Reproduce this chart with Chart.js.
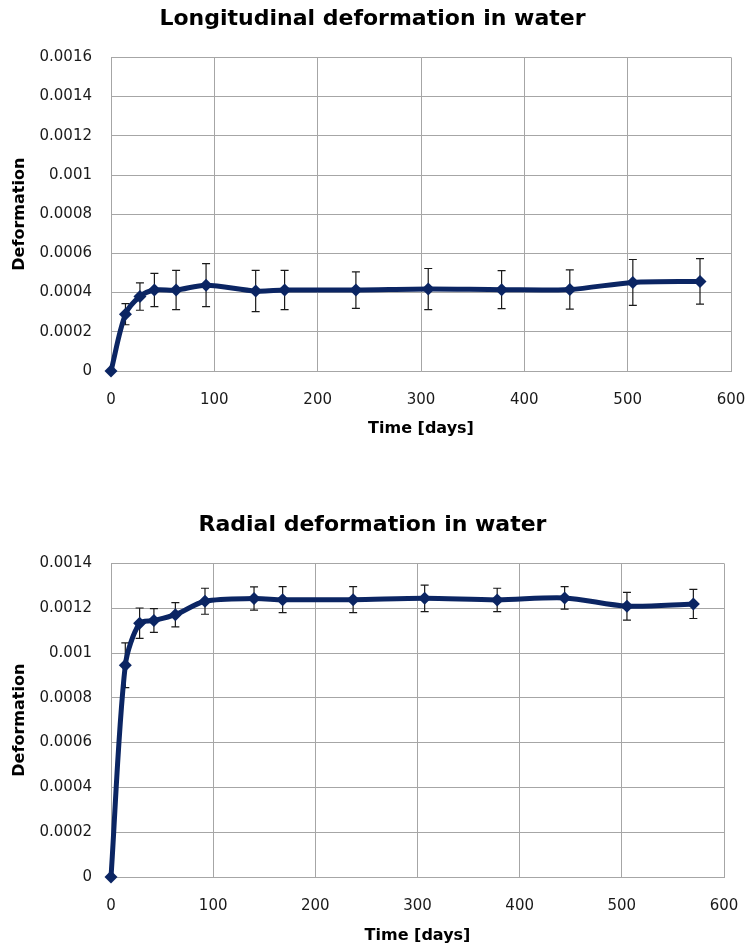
<!DOCTYPE html>
<html>
<head>
<meta charset="utf-8">
<script src="https://cdn.jsdelivr.net/npm/chart.js@4.4.1/dist/chart.umd.min.js"></script>
<style>
    body { margin: 0; background: #fff; width: 745px; height: 949px; position: relative; overflow: hidden; }
    canvas { position: absolute; left: 0; }
    #topChart { top: 0; }
    #bottomChart { top: 490px; }
</style>
</head>
<body>
<canvas id="topChart" width="745" height="450"></canvas>
<canvas id="bottomChart" width="745" height="459"></canvas>
<script>
// measurement days (same for both series)
const days = [0, 14, 28, 42, 63, 92, 140, 168, 237, 307, 378, 444, 505, 570];

const longitudinal = [0, 0.00029, 0.00038, 0.000413, 0.000413, 0.000438, 0.000408, 0.000413, 0.000413, 0.000418, 0.000415, 0.000416, 0.000452, 0.000457];
const longitudinalErr = [0, 0.000054, 0.00007, 0.000085, 0.0001, 0.00011, 0.000105, 0.0001, 0.000093, 0.000105, 0.000097, 0.0001, 0.000117, 0.000116];

const radial = [0, 0.000945, 0.001133, 0.001145, 0.001171, 0.001231, 0.001243, 0.001238, 0.001238, 0.001244, 0.001237, 0.001246, 0.001209, 0.001219];
const radialErr = [0, 0.0001, 0.000068, 0.000053, 0.000054, 0.000058, 0.000052, 0.000058, 0.000058, 0.000059, 0.000052, 0.00005, 0.000062, 0.000065];

const xTicks = [0, 100, 200, 300, 400, 500, 600];
const yTicksTop = [0, 0.0002, 0.0004, 0.0006, 0.0008, 0.001, 0.0012, 0.0014, 0.0016];
const yTicksBottom = [0, 0.0002, 0.0004, 0.0006, 0.0008, 0.001, 0.0012, 0.0014];

Chart.defaults.font.family = 'DejaVu Sans';
Chart.defaults.color = '#1a1a1a';

const lineColor = '#0b2563';
const gridColor = '#a6a6a6';

// draws the vertical error bars with small caps
const errorBars = {
    id: 'errorBars',
    beforeDatasetsDraw(chart, args, opts) {
        const ctx = chart.ctx;
        const xs = chart.scales.x;
        const ys = chart.scales.y;
        const errs = opts.errors || [];
        ctx.save();
        ctx.strokeStyle = '#1a1a1a';
        ctx.lineWidth = 1.2;
        for (let i = 0; i < days.length; i++) {
            if (!errs[i]) continue;
            const v = opts.values[i];
            const x = xs.getPixelForValue(days[i]);
            const y1 = ys.getPixelForValue(v + errs[i]);
            const y2 = ys.getPixelForValue(v - errs[i]);
            ctx.beginPath();
            ctx.moveTo(x, y1);
            ctx.lineTo(x, y2);
            ctx.moveTo(x - 4, y1);
            ctx.lineTo(x + 4, y1);
            ctx.moveTo(x - 4, y2);
            ctx.lineTo(x + 4, y2);
            ctx.stroke();
        }
        ctx.restore();
    }
};

function makeChart(canvasId, title, values, errors, yTicks, cfg) {
    const ctx = document.getElementById(canvasId);
    const points = [];
    for (let i = 0; i < days.length; i++) {
        points.push({ x: days[i], y: values[i] });
    }
    return new Chart(ctx, {
        type: 'line',
        data: {
            datasets: [
                {
                    data: points,
                    borderColor: lineColor,
                    backgroundColor: lineColor,
                    borderWidth: 5,
                    tension: 0.3,
                    pointStyle: 'rectRot',
                    pointRadius: 6.5,
                    pointBorderWidth: 0,
                    clip: false,
                },
            ],
        },
        options: {
            responsive: false,
            animation: false,
            devicePixelRatio: 1,
            layout: { padding: 0 },
            plugins: {
                legend: { display: false },
                tooltip: { enabled: false },
                title: {
                    display: true,
                    text: title,
                    color: '#000',
                    font: { size: 22, weight: 'bold' },
                    padding: { top: cfg.titleTop, bottom: cfg.titleBottom },
                },
                errorBars: { values: values, errors: errors },
            },
            scales: {
                x: {
                    type: 'linear',
                    min: 0,
                    max: 600,
                    afterBuildTicks: (scale) => {
                        scale.ticks = xTicks.map((v) => ({ value: v }));
                    },
                    afterFit: (scale) => {
                        scale.height = cfg.xHeight;
                        scale.paddingLeft = 0;
                        scale.paddingRight = cfg.right;
                    },
                    ticks: { font: { size: 15 }, padding: 20, maxRotation: 0 },
                    grid: { color: gridColor, drawTicks: false },
                    border: { color: gridColor },
                    title: {
                        display: true,
                        text: 'Time [days]',
                        color: '#000',
                        font: { size: 16, weight: 'bold' },
                        padding: { top: 0, bottom: cfg.xTitleBottom },
                    },
                },
                y: {
                    min: 0,
                    max: yTicks[yTicks.length - 1],
                    afterBuildTicks: (scale) => {
                        scale.ticks = yTicks.map((v) => ({ value: v }));
                    },
                    afterFit: (scale) => {
                        scale.width = 111;
                    },
                    ticks: {
                        font: { size: 15 },
                        padding: 19,
                        callback: (v) => String(v),
                    },
                    grid: { color: gridColor, drawTicks: false },
                    border: { color: gridColor },
                    title: {
                        display: true,
                        text: 'Deformation',
                        color: '#000',
                        font: { size: 16, weight: 'bold' },
                        padding: { top: 10, bottom: 0 },
                    },
                },
            },
        },
        plugins: [errorBars],
    });
}

makeChart('topChart', 'Longitudinal deformation in water', longitudinal, longitudinalErr, yTicksTop, {
    right: 14, titleTop: 6, titleBottom: 25, xHeight: 79, xTitleBottom: 12,
});
makeChart('bottomChart', 'Radial deformation in water', radial, radialErr, yTicksBottom, {
    right: 21, titleTop: 22, titleBottom: 25, xHeight: 72, xTitleBottom: 4,
});
</script>
</body>
</html>
